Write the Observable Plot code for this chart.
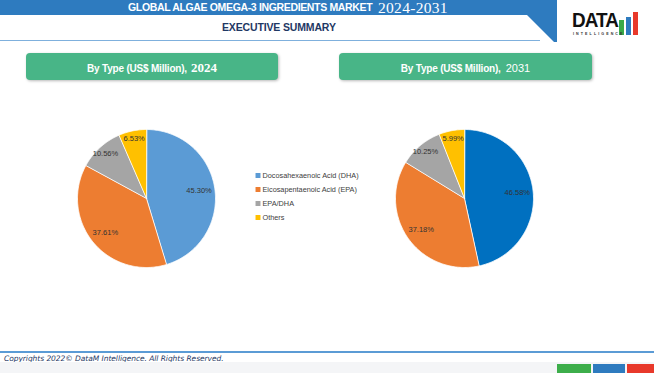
<!DOCTYPE html>
<html><head><meta charset="utf-8">
<script src="https://cdn.jsdelivr.net/npm/d3@7"></script>
<script src="https://cdn.jsdelivr.net/npm/@observablehq/plot@0.6"></script>
<style>
html,body{margin:0;padding:0;background:#fff}
#page{position:relative;width:654px;height:373px;overflow:hidden;font-family:"Liberation Sans",Arial,sans-serif}
.abs{position:absolute}
#band{left:0;top:0;width:557px;height:42px;background:#2E7BBF;clip-path:polygon(0 0,557px 0,557px 42px,554px 42px,527px 15px,0 15px)}
#bandline{left:0;top:40px;width:540px;height:1px;background:#7FB0DD}
#title{left:128px;top:0;height:15px;line-height:15px;color:#fff;font-weight:bold;font-size:10.5px;letter-spacing:-0.35px;white-space:nowrap}
#titleyr{left:378px;top:0;height:15px;line-height:15px;color:#fff;font-family:"Liberation Serif",serif;font-size:15.5px;letter-spacing:0.3px;white-space:nowrap}
#exec{left:222px;top:21px;color:#1F3864;font-weight:bold;font-size:10.5px;letter-spacing:-0.15px;white-space:nowrap}
.box{top:53px;height:27px;background:#48B587;border-radius:4px;box-shadow:1px 1px 3px rgba(0,0,0,0.28);color:#fff;text-align:center;line-height:27px;white-space:nowrap}
.box .lbl{font-weight:bold;font-size:10px;letter-spacing:-0.2px}
.box .y1{font-family:"Liberation Serif",serif;font-weight:bold;font-size:13px;margin-left:4px}
.box .y2{font-family:"Liberation Sans",sans-serif;font-size:11px;margin-left:5px}
#logo{left:570px;top:6px;width:80px;height:34px}
#logo .d{position:absolute;left:2px;top:2px;font-weight:bold;font-size:21px;color:#111;letter-spacing:-1px;transform:scaleX(0.9);transform-origin:left}
#logo .i{position:absolute;left:3px;top:26px;font-size:3.6px;letter-spacing:2.1px;color:#333;font-weight:bold}
#logo .b{position:absolute;width:5px}
#footline{left:0;top:351px;width:654px;height:2px;background:#5B9BD5}
#foot{left:4px;top:354px;font-size:7.5px;font-style:italic;color:#1F3864;white-space:nowrap;font-family:"DejaVu Sans",sans-serif;letter-spacing:-0.05px}
#footbg{left:0;top:362px;width:654px;height:11px;background:#F4F5F7}
</style></head><body>
<div id="page">
  <div id="band" class="abs"></div>
  <div id="bandline" class="abs"></div>
  <div id="title" class="abs"></div>
  <div id="titleyr" class="abs"></div>
  <div id="exec" class="abs"></div>
  <div id="logo" class="abs">
    <div class="d">DATA</div>
    <div class="b" style="left:49px;top:14px;height:15px;background:#3BAA48"></div>
    <div class="b" style="left:56px;top:11px;height:18px;background:#2E7BBF"></div>
    <div class="b" style="left:63px;top:6px;height:23px;background:#E8392B"></div>
    <div class="i">INTELLIGENCE</div>
  </div>
  <div id="box1" class="abs box" style="left:26px;width:252px"></div>
  <div id="box2" class="abs box" style="left:339px;width:253px"></div>
  <div id="pie1" class="abs" style="left:66px;top:118px"></div>
  <div id="pie2" class="abs" style="left:384px;top:118px"></div>
  <div id="legend" class="abs" style="left:250px;top:165px"></div>
  <div id="footline" class="abs"></div>
  <div id="foot" class="abs"></div>
  <div id="footbg" class="abs"></div>
  <div class="abs" style="left:557px;top:364px;width:34px;height:9px;background:#3DAE4B"></div>
  <div class="abs" style="left:593px;top:364px;width:32px;height:9px;background:#2E7BBF"></div>
  <div class="abs" style="left:627px;top:364px;width:27px;height:9px;background:#E8392B"></div>
</div>
<script>
// ---- data ----
const reportTitle = "GLOBAL ALGAE OMEGA-3 INGREDIENTS MARKET";
const reportYears = "2024-2031";
const sectionTitle = "EXECUTIVE SUMMARY";
const panelLabel = "By Type (US$ Million),";
const years = ["2024", "2031"];
const categories = ["Docosahexaenoic Acid (DHA)", "Eicosapentaenoic Acid (EPA)", "EPA/DHA", "Others"];
const shares2024 = [45.30, 37.61, 10.56, 6.53];
const shares2031 = [46.58, 37.18, 10.25, 5.99];
const footerText = "Copyrights 2022\u00A9 DataM Intelligence. All Rights Reserved.";

// ---- palettes ----
const palette2024 = ["#5B9BD5", "#ED7D31", "#A5A5A5", "#FFC000"];
const palette2031 = ["#0070C0", "#ED7D31", "#A5A5A5", "#FFC000"];

document.getElementById("title").textContent = reportTitle;
document.getElementById("titleyr").textContent = reportYears;
document.getElementById("exec").textContent = sectionTitle;
document.getElementById("box1").innerHTML = '<span class="lbl">' + panelLabel + '</span><span class="y1">' + years[0] + '</span>';
document.getElementById("box2").innerHTML = '<span class="lbl">' + panelLabel + '</span><span class="y2">' + years[1] + '</span>';
document.getElementById("foot").textContent = footerText;

function pieChart(values, palette) {
  const total = d3.sum(values);
  const arcs = d3.pie().sort(null).value(d => d)(values);
  const features = arcs.map((a, i) => {
    const n = Math.max(2, Math.ceil((a.endAngle - a.startAngle) / (Math.PI / 180)));
    const ring = [[0, 0]];
    for (let k = 0; k <= n; k++) {
      const t = a.startAngle + (a.endAngle - a.startAngle) * k / n;
      ring.push([Math.sin(t), -Math.cos(t)]);
    }
    ring.push([0, 0]);
    return {type: "Feature", properties: {category: categories[i]}, geometry: {type: "Polygon", coordinates: [ring]}};
  });
  const outline = {type: "Polygon", coordinates: [d3.range(0, 361, 2).map(d => [Math.sin(d * Math.PI / 180), -Math.cos(d * Math.PI / 180)])]};
  const labels = arcs.map((a, i) => {
    const m = (a.startAngle + a.endAngle) / 2;
    const r = values[i] / total > 0.2 ? 0.77 : 0.88;
    return {x: r * Math.sin(m), y: -r * Math.cos(m), text: values[i].toFixed(2) + "%"};
  });
  return Plot.plot({
    width: 160, height: 160, margin: 0,
    style: {fontFamily: "Liberation Sans, Arial, sans-serif", background: "transparent"},
    projection: {type: "identity", domain: outline, inset: 11},
    color: {domain: categories, range: palette},
    marks: [
      Plot.geo(features, {fill: d => d.properties.category, stroke: "white", strokeWidth: 0.8}),
      Plot.text(labels, {x: "x", y: "y", text: "text", fontSize: 7.5, fill: "#333"})
    ]
  });
}

document.getElementById("pie1").append(pieChart(shares2024, palette2024));
document.getElementById("pie2").append(pieChart(shares2031, palette2031));

const legend = Plot.plot({
  width: 120, height: 60, margin: 0,
  style: {fontFamily: "Liberation Sans, Arial, sans-serif", background: "transparent"},
  x: {domain: [0, 1], range: [7.5, 117], axis: null},
  y: {domain: categories, range: [9, 52], padding: 0, axis: null},
  color: {domain: categories, range: palette2024},
  marks: [
    Plot.dot(categories, {x: () => 0, y: d => d, fill: d => d, symbol: "square", r: 2.8}),
    Plot.text(categories, {x: () => 0, y: d => d, text: d => d, dx: 4.5, textAnchor: "start", fontSize: 7.3, fill: "#404040"})
  ]
});
document.getElementById("legend").append(legend);
</script>
</body></html>
